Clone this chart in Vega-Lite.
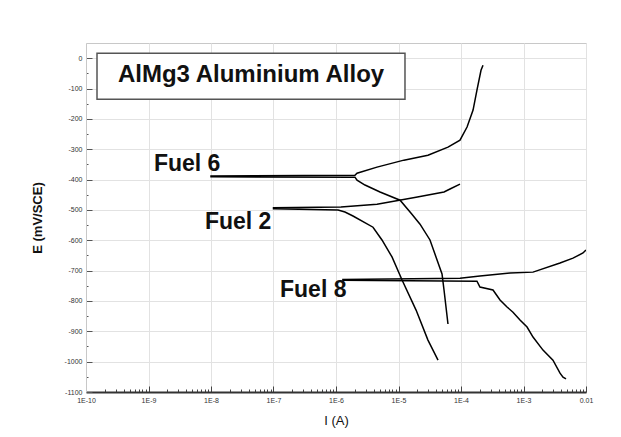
{
  "$schema": "https://vega.github.io/schema/vega-lite/v6.json",
  "width": 500,
  "height": 349,
  "autosize": {"type": "none"},
  "padding": {"left": 86, "top": 43, "right": 35, "bottom": 45},
  "background": "white",
  "config": {"view": {"stroke": "#c8c8c8", "strokeWidth": 1}, "font": "Liberation Sans", "axis": {"labelOverlap": false}},
  "datasets": {
    "curves": [
      {"fuel": "Fuel 6", "i": 1, "I": 6.19e-5, "E": -876},
      {"fuel": "Fuel 6", "i": 2, "I": 5.35e-5, "E": -764},
      {"fuel": "Fuel 6", "i": 3, "I": 4.97e-5, "E": -711},
      {"fuel": "Fuel 6", "i": 4, "I": 3.98e-5, "E": -655},
      {"fuel": "Fuel 6", "i": 5, "I": 3.19e-5, "E": -599},
      {"fuel": "Fuel 6", "i": 6, "I": 2.21e-5, "E": -547},
      {"fuel": "Fuel 6", "i": 7, "I": 1.64e-5, "E": -514},
      {"fuel": "Fuel 6", "i": 8, "I": 1.06e-5, "E": -468},
      {"fuel": "Fuel 6", "i": 9, "I": 5.06e-6, "E": -441},
      {"fuel": "Fuel 6", "i": 10, "I": 2.91e-6, "E": -418},
      {"fuel": "Fuel 6", "i": 11, "I": 2.17e-6, "E": -402},
      {"fuel": "Fuel 6", "i": 12, "I": 2.01e-6, "E": -392},
      {"fuel": "Fuel 6", "i": 13, "I": 1e-8, "E": -391},
      {"fuel": "Fuel 6", "i": 14, "I": 1e-8, "E": -388},
      {"fuel": "Fuel 6", "i": 15, "I": 2.01e-6, "E": -386},
      {"fuel": "Fuel 6", "i": 16, "I": 2.17e-6, "E": -379},
      {"fuel": "Fuel 6", "i": 17, "I": 4.53e-6, "E": -359},
      {"fuel": "Fuel 6", "i": 18, "I": 1.22e-5, "E": -336},
      {"fuel": "Fuel 6", "i": 19, "I": 2.96e-5, "E": -320},
      {"fuel": "Fuel 6", "i": 20, "I": 6.19e-5, "E": -293},
      {"fuel": "Fuel 6", "i": 21, "I": 9.64e-5, "E": -270},
      {"fuel": "Fuel 6", "i": 22, "I": 1.25e-4, "E": -227},
      {"fuel": "Fuel 6", "i": 23, "I": 1.56e-4, "E": -171},
      {"fuel": "Fuel 6", "i": 24, "I": 1.80e-4, "E": -105},
      {"fuel": "Fuel 6", "i": 25, "I": 2.09e-4, "E": -40},
      {"fuel": "Fuel 6", "i": 26, "I": 2.25e-4, "E": -23},
      {"fuel": "Fuel 2", "i": 1, "I": 4.29e-5, "E": -995},
      {"fuel": "Fuel 2", "i": 2, "I": 2.96e-5, "E": -929},
      {"fuel": "Fuel 2", "i": 3, "I": 1.91e-5, "E": -830},
      {"fuel": "Fuel 2", "i": 4, "I": 1.14e-5, "E": -731},
      {"fuel": "Fuel 2", "i": 5, "I": 7.87e-6, "E": -655},
      {"fuel": "Fuel 2", "i": 6, "I": 5.44e-6, "E": -599},
      {"fuel": "Fuel 2", "i": 7, "I": 3.91e-6, "E": -557},
      {"fuel": "Fuel 2", "i": 8, "I": 1.87e-6, "E": -520},
      {"fuel": "Fuel 2", "i": 9, "I": 1.39e-6, "E": -507},
      {"fuel": "Fuel 2", "i": 10, "I": 1.08e-6, "E": -500},
      {"fuel": "Fuel 2", "i": 11, "I": 1e-7, "E": -496},
      {"fuel": "Fuel 2", "i": 12, "I": 1e-7, "E": -493},
      {"fuel": "Fuel 2", "i": 13, "I": 1.2e-6, "E": -490},
      {"fuel": "Fuel 2", "i": 14, "I": 4.53e-6, "E": -481},
      {"fuel": "Fuel 2", "i": 15, "I": 1.91e-5, "E": -458},
      {"fuel": "Fuel 2", "i": 16, "I": 5.35e-5, "E": -441},
      {"fuel": "Fuel 2", "i": 17, "I": 6.67e-5, "E": -431},
      {"fuel": "Fuel 2", "i": 18, "I": 9.64e-5, "E": -415},
      {"fuel": "Fuel 8", "i": 1, "I": 4.79e-3, "E": -1057},
      {"fuel": "Fuel 8", "i": 2, "I": 4.29e-3, "E": -1051},
      {"fuel": "Fuel 8", "i": 3, "I": 3.84e-3, "E": -1038},
      {"fuel": "Fuel 8", "i": 4, "I": 2.96e-3, "E": -995},
      {"fuel": "Fuel 8", "i": 5, "I": 2.05e-3, "E": -962},
      {"fuel": "Fuel 8", "i": 6, "I": 1.42e-3, "E": -919},
      {"fuel": "Fuel 8", "i": 7, "I": 1.14e-3, "E": -886},
      {"fuel": "Fuel 8", "i": 8, "I": 8.79e-4, "E": -863},
      {"fuel": "Fuel 8", "i": 9, "I": 6.79e-4, "E": -837},
      {"fuel": "Fuel 8", "i": 10, "I": 5.45e-4, "E": -820},
      {"fuel": "Fuel 8", "i": 11, "I": 4.21e-4, "E": -797},
      {"fuel": "Fuel 8", "i": 12, "I": 3.25e-4, "E": -764},
      {"fuel": "Fuel 8", "i": 13, "I": 2.01e-4, "E": -754},
      {"fuel": "Fuel 8", "i": 14, "I": 1.80e-4, "E": -735},
      {"fuel": "Fuel 8", "i": 15, "I": 1.29e-6, "E": -732},
      {"fuel": "Fuel 8", "i": 16, "I": 1.29e-6, "E": -729},
      {"fuel": "Fuel 8", "i": 17, "I": 9.64e-5, "E": -725},
      {"fuel": "Fuel 8", "i": 18, "I": 2.01e-4, "E": -718},
      {"fuel": "Fuel 8", "i": 19, "I": 6.08e-4, "E": -708},
      {"fuel": "Fuel 8", "i": 20, "I": 1.42e-3, "E": -705},
      {"fuel": "Fuel 8", "i": 21, "I": 3.84e-3, "E": -675},
      {"fuel": "Fuel 8", "i": 22, "I": 6.19e-3, "E": -659},
      {"fuel": "Fuel 8", "i": 23, "I": 8.95e-3, "E": -642},
      {"fuel": "Fuel 8", "i": 24, "I": 1e-2, "E": -632}
    ],
    "labels": [
      {"label": "Fuel 6", "I": 1.22e-9, "E": -349},
      {"label": "Fuel 2", "I": 8.0e-9, "E": -540},
      {"label": "Fuel 8", "I": 1.27e-7, "E": -764}
    ],
    "box": [
      {"I": 1.5e-10, "I2": 1.27e-5, "E": 16, "E2": -135}
    ],
    "boxtext": [
      {"label": "AlMg3 Aluminium Alloy", "I": 4.37e-8, "E": -56}
    ]
  },
  "layer": [
    {
      "data": {"name": "curves"},
      "mark": {"type": "line", "color": "black", "strokeWidth": 1.5, "clip": true},
      "encoding": {
        "x": {
          "field": "I", "type": "quantitative",
          "scale": {"type": "log", "domain": [1e-10, 0.01], "nice": false},
          "axis": {
            "title": "I (A)", "titleFontSize": 13, "titleFontWeight": "normal", "titleColor": "#111", "titlePadding": 8,
            "tickCount": 80,
            "labelExpr": "abs(log(datum.value)/LN10 - round(log(datum.value)/LN10)) < 0.001 ? (datum.value > 0.005 ? '0.01' : '1E' + round(log(datum.value)/LN10)) : ''",
            "labelFontSize": 7, "labelColor": "#333", "labelOverlap": false, "labelFlush": false, "labelBound": false, "labelPadding": 10,
            "tickSize": {"condition": {"test": "abs(log(datum.value)/LN10 - round(log(datum.value)/LN10)) < 0.001", "value": -6}, "value": -3},
            "tickColor": "#444",
            "domainColor": "#333", "domainWidth": 2,
            "gridColor": "#e2e2e2",
            "gridOpacity": {"condition": {"test": "abs(log(datum.value)/LN10 - round(log(datum.value)/LN10)) < 0.001", "value": 1}, "value": 0}
          }
        },
        "y": {
          "field": "E", "type": "quantitative",
          "scale": {"domain": [-1100, 50], "nice": false, "zero": false},
          "axis": {
            "title": "E (mV/SCE)", "titleFontSize": 13, "titleFontWeight": "bold", "titleColor": "#111", "titlePadding": 20,
            "tickCount": 100,
            "values": [-1100, -1050, -1000, -950, -900, -850, -800, -750, -700, -650, -600, -550, -500, -450, -400, -350, -300, -250, -200, -150, -100, -50, 0],
            "labelExpr": "datum.value % 100 == 0 ? '' + datum.value : ''",
            "labelFontSize": 7, "labelColor": "#333", "labelOverlap": false, "labelPadding": 10,
            "tickSize": {"condition": {"test": "datum.value % 100 == 0", "value": -6}, "value": -2},
            "tickColor": "#555",
            "domainColor": "#c8c8c8", "domainWidth": 1,
            "gridColor": "#e2e2e2",
            "gridOpacity": {"condition": {"test": "datum.value % 100 == 0", "value": 1}, "value": 0}
          }
        },
        "detail": {"field": "fuel"},
        "order": {"field": "i", "type": "quantitative"}
      }
    },
    {
      "data": {"name": "box"},
      "mark": {"type": "rect", "fill": "white", "stroke": "#555", "strokeWidth": 1.5},
      "encoding": {
        "x": {"field": "I", "type": "quantitative"},
        "x2": {"field": "I2"},
        "y": {"field": "E", "type": "quantitative"},
        "y2": {"field": "E2"}
      }
    },
    {
      "data": {"name": "boxtext"},
      "mark": {"type": "text", "fontSize": 24, "fontWeight": "bold", "align": "center", "baseline": "middle", "color": "#111"},
      "encoding": {
        "x": {"field": "I", "type": "quantitative"},
        "y": {"field": "E", "type": "quantitative"},
        "text": {"field": "label"}
      }
    },
    {
      "data": {"name": "labels"},
      "mark": {"type": "text", "fontSize": 23, "fontWeight": "bold", "align": "left", "baseline": "middle", "color": "#111"},
      "encoding": {
        "x": {"field": "I", "type": "quantitative"},
        "y": {"field": "E", "type": "quantitative"},
        "text": {"field": "label"}
      }
    }
  ]
}
